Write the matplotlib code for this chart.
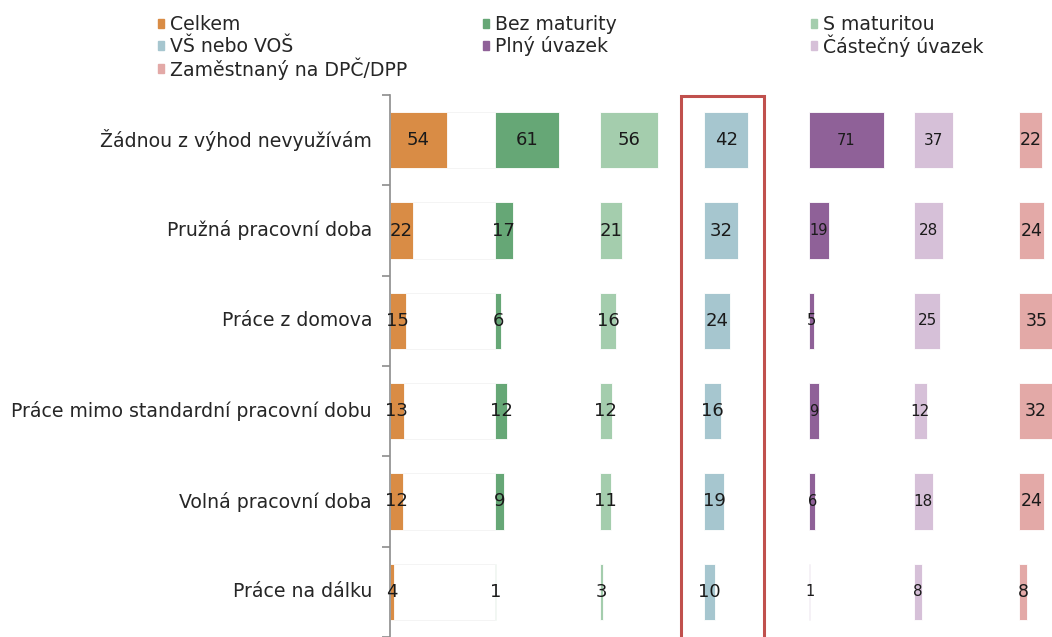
import matplotlib
matplotlib.use("Agg")
import matplotlib.pyplot as plt
from matplotlib.patches import Rectangle
import matplotlib.transforms as mtransforms

categories = [
    "Žádnou z výhod nevyužívám",
    "Pružná pracovní doba",
    "Práce z domova",
    "Práce mimo standardní pracovní dobu",
    "Volná pracovní doba",
    "Práce na dálku",
]
series_names = [
    "Celkem", "Bez maturity", "S maturitou", "VŠ nebo VOŠ",
    "Plný úvazek", "Částečný úvazek", "Zaměstnaný na DPČ/DPP",
]
celkem = [54, 22, 15, 13, 12, 4]
bez_maturity = [61, 17, 6, 12, 9, 1]
s_maturitou = [56, 21, 16, 12, 11, 3]
vs_vos = [42, 32, 24, 16, 19, 10]
plny = [71, 19, 5, 9, 6, 1]
castecny = [37, 28, 25, 12, 18, 8]
dpc_dpp = [22, 24, 35, 32, 24, 8]

series_values = [celkem, bez_maturity, s_maturitou, vs_vos, plny, castecny, dpc_dpp]
colors = ["#d98c45", "#66a776", "#a4cdad", "#a6c6cf", "#8f6198", "#d6c0d8", "#e3a9a7"]
label_sizes = [13, 13, 13, 13, 10.5, 11, 12.5]

W, H, DPI = 1052, 637, 100
fig = plt.figure(figsize=(W / DPI, H / DPI), dpi=DPI)

px_per_unit = 1.048
ax_left_px = 390
ax_top_px = 95
ax = fig.add_axes([ax_left_px / W, 0, 1 - ax_left_px / W, 1 - ax_top_px / H])
ax.set_xlim(0, (W - ax_left_px) / px_per_unit)
ax.set_ylim(len(categories) - 0.5, -0.5)

block = 100
bar_h = 0.62
ypos = list(range(len(categories)))
for j, (vals, col) in enumerate(zip(series_values, colors)):
    start = j * block
    ax.barh(ypos, vals, left=start, height=bar_h, color=col,
            edgecolor="white", linewidth=0.6, zorder=2)
    # transparent filler that completes each block to 100
    fill = [block - v for v in vals]
    ax.barh(ypos, fill, left=[start + v for v in vals], height=bar_h,
            color="white", edgecolor="#f3f3f3" if j == 0 else "white",
            linewidth=0.6, zorder=1)
    for y, v in zip(ypos, vals):
        ax.text(start + v / 2, y, str(v), ha="center", va="center",
                fontsize=label_sizes[j], color="#1a1a1a", zorder=3)

# y axis with ticks on category boundaries
for s in ["top", "right", "bottom"]:
    ax.spines[s].set_visible(False)
ax.spines["left"].set_color("#8c8c8c")
ax.spines["left"].set_linewidth(1.2)
ax.set_xticks([])
ax.set_yticks([y - 0.5 for y in ypos] + [len(categories) - 0.5])
ax.set_yticklabels([])
ax.tick_params(axis="y", direction="out", length=6, color="#8c8c8c", width=1.2)
for y, c in zip(ypos, categories):
    ax.text(-18 / px_per_unit, y, c, ha="right", va="center",
            fontsize=13.6, color="#262626")

# highlight frame around the university column
trans = mtransforms.blended_transform_factory(ax.transData, ax.transAxes)
hl = Rectangle((3 * block - 22.5, -0.2), 79, 1.198, transform=trans,
               fill=False, edgecolor="#c0504d", linewidth=2.2,
               clip_on=False, zorder=5)
ax.add_patch(hl)

# legend laid out in three columns
leg_cols_px = [158, 483, 811]
leg_rows_px = [24, 46, 69]
for i, (name, col) in enumerate(zip(series_names, colors)):
    r, c = divmod(i, 3)
    x = leg_cols_px[c]
    y = leg_rows_px[r]
    fig.add_artist(Rectangle((x / W, 1 - (y + 4) / H), 6 / W, 9 / H,
                             transform=fig.transFigure, color=col))
    fig.text((x + 12) / W, 1 - y / H, name, ha="left", va="center",
             fontsize=13.6, color="#262626")

fig.savefig("out.png", dpi=DPI)
